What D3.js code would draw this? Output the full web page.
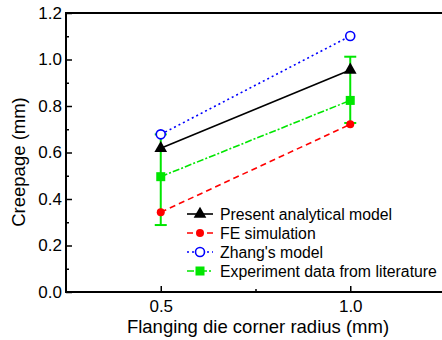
<!DOCTYPE html>
<html>
<head>
<meta charset="utf-8">
<script src="https://cdn.jsdelivr.net/npm/d3@7"></script>
<style>
  body { margin: 0; background: #fff; }
  svg { display: block; font-family: Arial, "Liberation Sans", sans-serif; }
</style>
</head>
<body>
<svg id="chart" width="442" height="340"></svg>
<script>
// values
var radius = [0.5, 1.0];
var present = [0.618, 0.955];
var feSim = [0.343, 0.721];
var zhang = [0.678, 1.101];
var experiment = [0.496, 0.824];
var expLow = [0.288, 0.727];
var expHigh = [0.678, 1.012];
var xTicks = [0.5, 1.0];
var yTicks = [0.0, 0.2, 0.4, 0.6, 0.8, 1.0, 1.2];
var legendNames = ['Present analytical model', 'FE simulation', "Zhang's model", 'Experiment data from literature'];

var svg = d3.select('#chart'),
    margin = {top: 13, left: 66, bottom: 48, right: -3},
    width = 442 - margin.left - margin.right,
    height = 340 - margin.top - margin.bottom;

var x = d3.scaleLinear().domain([0.25, 1.25]).range([margin.left, margin.left + width]),
    y = d3.scaleLinear().domain([0, 1.2]).range([margin.top + height, margin.top]);

var series = [
  {name: legendNames[0], values: present, color: '#000', dash: null, marker: 'triangle'},
  {name: legendNames[1], values: feSim, color: '#ff0000', dash: '6,4', marker: 'dot'},
  {name: legendNames[2], values: zhang, color: '#0000ff', dash: '2,3', marker: 'ring'},
  {name: legendNames[3], values: experiment, color: '#00e600', dash: '7,2,2,2', marker: 'square'}
];

// axes, ticks inward
var yMinor = d3.range(0.1, 1.2, 0.2);
var g = svg.append('g');
g.append('g')
  .attr('transform', 'translate(' + margin.left + ',0)')
  .call(d3.axisRight(y).tickValues(yMinor).tickSize(3).tickFormat(''))
  .call(function(a) { a.select('.domain').remove(); a.selectAll('line').attr('stroke-width', 1.5); });
var yAxis = g.append('g')
  .attr('transform', 'translate(' + margin.left + ',0)')
  .call(d3.axisRight(y).tickValues(yTicks).tickSize(6).tickFormat(d3.format('.1f')));
yAxis.select('.domain').remove();
yAxis.selectAll('line').attr('stroke-width', 1.5);
yAxis.selectAll('text')
  .attr('x', -4)
  .attr('text-anchor', 'end')
  .attr('font-size', 17)
  .attr('fill', '#000');

g.append('g')
  .attr('transform', 'translate(0,' + (margin.top + height) + ')')
  .call(d3.axisTop(x).tickValues([0.75]).tickSize(3).tickFormat(''))
  .call(function(a) { a.select('.domain').remove(); a.selectAll('line').attr('stroke-width', 1.5); });
var xAxis = g.append('g')
  .attr('transform', 'translate(0,' + (margin.top + height) + ')')
  .call(d3.axisTop(x).tickValues(xTicks).tickSize(6).tickFormat(d3.format('.1f')));
xAxis.select('.domain').remove();
xAxis.selectAll('line').attr('stroke-width', 1.5);
xAxis.selectAll('text')
  .attr('y', 20)
  .attr('dy', 0)
  .attr('font-size', 17)
  .attr('fill', '#000');

// frame: left, bottom, top
svg.append('path')
  .attr('d', 'M' + (margin.left + width) + ',' + margin.top + 'H' + margin.left +
             'V' + (margin.top + height) + 'H' + (margin.left + width))
  .attr('fill', 'none')
  .attr('stroke', '#000')
  .attr('stroke-width', 2);

svg.append('text')
  .attr('x', 258).attr('y', 333)
  .attr('text-anchor', 'middle')
  .attr('font-size', 18.5)
  .text('Flanging die corner radius (mm)');
svg.append('text')
  .attr('transform', 'translate(25,162) rotate(-90)')
  .attr('text-anchor', 'middle')
  .attr('font-size', 18.5)
  .text('Creepage (mm)');

function drawMarker(sel, type, color) {
  if (type === 'triangle') {
    sel.append('path').attr('d', d3.symbol(d3.symbolTriangle, 70)()).attr('fill', color);
  } else if (type === 'dot') {
    sel.append('circle').attr('r', 4).attr('fill', color);
  } else if (type === 'ring') {
    sel.append('circle').attr('r', 4.5).attr('fill', '#fff').attr('stroke', color).attr('stroke-width', 1.6);
  } else {
    sel.append('rect').attr('x', -4.5).attr('y', -4.5).attr('width', 9).attr('height', 9).attr('fill', color);
  }
}

var line = d3.line().x(function(d, i) { return x(radius[i]); }).y(function(d) { return y(d); });

series.forEach(function(s) {
  svg.append('path')
    .datum(s.values)
    .attr('d', line)
    .attr('fill', 'none')
    .attr('stroke', s.color)
    .attr('stroke-width', 1.6)
    .attr('stroke-dasharray', s.dash);
});

// error bars for experiment
var eb = svg.append('g').attr('stroke', series[3].color).attr('stroke-width', 2);
radius.forEach(function(r, i) {
  eb.append('line').attr('x1', x(r)).attr('x2', x(r)).attr('y1', y(expLow[i])).attr('y2', y(expHigh[i]));
  [expLow[i], expHigh[i]].forEach(function(v) {
    eb.append('line').attr('x1', x(r) - 6).attr('x2', x(r) + 6).attr('y1', y(v)).attr('y2', y(v));
  });
});

series.forEach(function(s) {
  s.values.forEach(function(v, i) {
    var m = svg.append('g').attr('transform', 'translate(' + x(radius[i]) + ',' + y(v) + ')');
    drawMarker(m, s.marker, s.color);
  });
});

// legend
var legend = svg.append('g').attr('transform', 'translate(187,214)');
series.forEach(function(s, i) {
  var row = legend.append('g').attr('transform', 'translate(0,' + (i * 19) + ')');
  row.append('line').attr('x1', 0).attr('x2', 26).attr('stroke', s.color)
    .attr('stroke-width', 1.6).attr('stroke-dasharray', s.dash);
  drawMarker(row.append('g').attr('transform', 'translate(13,0)'), s.marker, s.color);
  row.append('text').attr('x', 33).attr('y', 5.5).attr('font-size', 15.8).text(s.name);
});
</script>
</body>
</html>
